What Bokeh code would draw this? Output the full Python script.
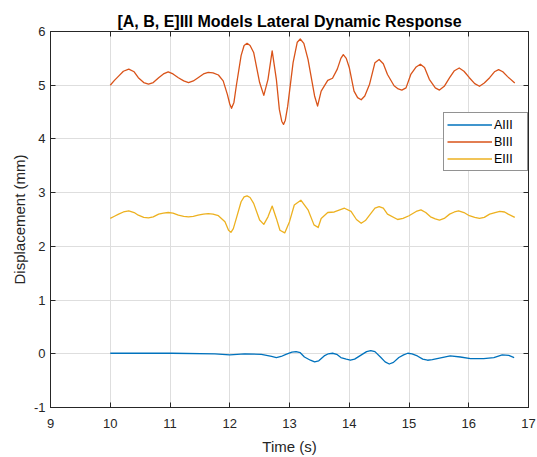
from bokeh.plotting import figure
from bokeh.models import LinearAxis, Legend, LegendItem, FixedTicker, Range1d
from bokeh.embed import file_html
from bokeh.resources import INLINE

# ---- data ----
a_t = [10.0, 11.03, 11.75, 12.0, 12.25, 12.53, 12.70, 12.78, 12.86, 12.94, 13.04, 13.11,
       13.18, 13.25, 13.35, 13.42, 13.49, 13.58, 13.65, 13.72, 13.79, 13.86, 13.95, 14.02,
       14.09, 14.19, 14.29, 14.36, 14.43, 14.53, 14.60, 14.67, 14.74, 14.83, 14.91, 14.98,
       15.05, 15.14, 15.23, 15.31, 15.39, 15.47, 15.69, 15.86, 16.03, 16.25, 16.42, 16.56,
       16.67, 16.76]
a_y = [0.01, 0.01, 0.0, -0.02, 0.0, -0.01, -0.05, -0.07, -0.05, -0.01, 0.03, 0.04,
       0.02, -0.06, -0.12, -0.15, -0.13, -0.04, 0.0, 0.01, -0.01, -0.07, -0.10, -0.12,
       -0.10, -0.03, 0.04, 0.06, 0.04, -0.07, -0.15, -0.19, -0.16, -0.07, -0.02, 0.01,
       0.0, -0.04, -0.10, -0.12, -0.11, -0.09, -0.04, -0.06, -0.09, -0.09, -0.07, -0.02,
       -0.03, -0.07]

b_t = [10.0, 10.07, 10.14, 10.22, 10.31, 10.40, 10.47, 10.56, 10.64, 10.72, 10.81, 10.89,
       10.97, 11.05, 11.14, 11.23, 11.31, 11.39, 11.47, 11.56, 11.64, 11.72, 11.81,
       11.89, 11.96, 12.0, 12.03, 12.07, 12.11, 12.19, 12.24, 12.29, 12.34, 12.40, 12.50,
       12.57, 12.64, 12.71, 12.78, 12.83, 12.87, 12.90, 12.93, 12.97, 13.06, 13.13, 13.18,
       13.24, 13.31, 13.42, 13.47, 13.53, 13.64, 13.72, 13.80, 13.86, 13.90, 13.95, 14.0,
       14.08, 14.14, 14.20, 14.26, 14.34, 14.43, 14.50, 14.57, 14.64, 14.75, 14.82, 14.88,
       14.95, 15.03, 15.12, 15.19, 15.26, 15.34, 15.44, 15.51, 15.59, 15.68, 15.76, 15.84,
       15.92, 16.01, 16.10, 16.18, 16.26, 16.35, 16.43, 16.50, 16.57, 16.65, 16.77]
b_y = [5.0, 5.09, 5.17, 5.26, 5.30, 5.25, 5.14, 5.05, 5.02, 5.05, 5.14, 5.21,
       5.25, 5.21, 5.14, 5.08, 5.05, 5.08, 5.14, 5.21, 5.24, 5.23, 5.19,
       5.08, 4.83, 4.65, 4.57, 4.68, 4.99, 5.55, 5.74, 5.78, 5.74, 5.61, 5.05,
       4.81, 5.11, 5.64, 5.11, 4.55, 4.33, 4.27, 4.35, 4.61, 5.42, 5.80, 5.86,
       5.78, 5.48, 4.80, 4.61, 4.89, 5.09, 5.13, 5.30, 5.50, 5.57, 5.50, 5.33,
       4.89, 4.77, 4.73, 4.80, 5.02, 5.42, 5.48, 5.40, 5.20, 4.99, 4.93, 4.91,
       4.95, 5.20, 5.34, 5.39, 5.33, 5.11, 4.95, 4.91, 4.98, 5.14, 5.27, 5.32,
       5.26, 5.14, 5.03, 4.98, 5.04, 5.14, 5.25, 5.29, 5.25, 5.16, 5.04]

e_t = [10.0, 10.07, 10.14, 10.22, 10.31, 10.40, 10.47, 10.56, 10.64, 10.72, 10.81, 10.89,
       10.97, 11.05, 11.14, 11.23, 11.31, 11.39, 11.47, 11.56, 11.64, 11.72, 11.81,
       11.92, 11.98, 12.02, 12.06, 12.11, 12.19, 12.24, 12.29, 12.34, 12.40, 12.50, 12.57,
       12.64, 12.71, 12.78, 12.84, 12.92, 13.0, 13.08, 13.19, 13.31, 13.41, 13.48, 13.53,
       13.64, 13.75, 13.92, 14.03, 14.12, 14.20, 14.27, 14.34, 14.43, 14.50, 14.57, 14.64,
       14.81, 14.90, 15.0, 15.12, 15.20, 15.28, 15.36, 15.44, 15.51, 15.59, 15.68, 15.76,
       15.83, 15.92, 16.01, 16.10, 16.18, 16.26, 16.35, 16.44, 16.52, 16.60, 16.66, 16.77]
e_y = [2.52, 2.56, 2.60, 2.64, 2.66, 2.63, 2.58, 2.54, 2.53, 2.55, 2.60, 2.62,
       2.63, 2.62, 2.58, 2.56, 2.55, 2.56, 2.58, 2.60, 2.61, 2.60, 2.57,
       2.46, 2.30, 2.26, 2.33, 2.52, 2.83, 2.92, 2.94, 2.91, 2.80, 2.49, 2.41,
       2.55, 2.75, 2.52, 2.30, 2.25, 2.46, 2.77, 2.86, 2.68, 2.40, 2.35, 2.52,
       2.63, 2.64, 2.71, 2.65, 2.50, 2.43, 2.48, 2.58, 2.71, 2.74, 2.71, 2.60,
       2.50, 2.52, 2.57, 2.65, 2.68, 2.63, 2.55, 2.51, 2.49, 2.52, 2.60, 2.64,
       2.66, 2.63, 2.57, 2.54, 2.52, 2.54, 2.60, 2.63, 2.65, 2.64, 2.60, 2.54]

series_names = ["AIII", "BIII", "EIII"]
x_ticks = [9, 10, 11, 12, 13, 14, 15, 16, 17]
y_ticks = [-1, 0, 1, 2, 3, 4, 5, 6]

FONT = "Liberation Sans"
DARK = "#262626"

p = figure(width=537, height=457, output_backend="svg", toolbar_location=None,
           x_range=Range1d(9, 17), y_range=Range1d(-1, 6),
           min_border_left=50, min_border_right=9, min_border_top=31, min_border_bottom=49)

p.title.text = "[A, B, E]III Models Lateral Dynamic Response"
p.title.align = "center"
p.title.text_font = FONT
p.title.text_font_size = "16px"
p.title.text_font_style = "bold"
p.title.text_color = "#000000"
p.title.offset = 0
p.title.standoff = 4

colors = ["#0072BD", "#D95319", "#EDB120"]
ra = p.line(a_t, a_y, line_color=colors[0], line_width=1.3, line_join="round")
rb = p.line(b_t, b_y, line_color=colors[1], line_width=1.3, line_join="round")
re = p.line(e_t, e_y, line_color=colors[2], line_width=1.3, line_join="round")

for ax in (p.xaxis[0], p.yaxis[0]):
    ax.major_tick_in = 5
    ax.major_tick_out = 0
    ax.minor_tick_in = 0
    ax.minor_tick_out = 0
    ax.axis_line_color = DARK
    ax.major_tick_line_color = DARK
    ax.major_label_text_color = DARK
    ax.major_label_text_font = FONT
    ax.major_label_text_font_size = "13px"
    ax.axis_label_text_font = FONT
    ax.axis_label_text_font_size = "15px"
    ax.axis_label_text_font_style = "normal"
    ax.axis_label_text_color = DARK

p.xaxis[0].ticker = FixedTicker(ticks=x_ticks)
p.yaxis[0].ticker = FixedTicker(ticks=y_ticks)
p.yaxis[0].major_label_overrides = {t: str(t) for t in y_ticks}
p.xaxis[0].axis_label = "Time (s)"
p.yaxis[0].axis_label = "Displacement (mm)"
p.xaxis[0].major_label_standoff = 11
p.xaxis[0].axis_label_standoff = 7
p.yaxis[0].major_label_standoff = 5
p.yaxis[0].axis_label_standoff = 3

blank_x = {t: "" for t in x_ticks}
blank_y = {t: "" for t in y_ticks}
top = LinearAxis(ticker=FixedTicker(ticks=x_ticks), major_label_overrides=blank_x,
                 major_tick_in=5, major_tick_out=0, minor_tick_in=0, minor_tick_out=0,
                 axis_line_color=DARK, major_tick_line_color=DARK, major_label_standoff=0)
right = LinearAxis(ticker=FixedTicker(ticks=y_ticks), major_label_overrides=blank_y,
                   major_tick_in=5, major_tick_out=0, minor_tick_in=0, minor_tick_out=0,
                   axis_line_color=DARK, major_tick_line_color=DARK, major_label_standoff=0)
p.add_layout(top, "above")
p.add_layout(right, "right")

p.xgrid.ticker = FixedTicker(ticks=x_ticks)
p.ygrid.ticker = FixedTicker(ticks=y_ticks)
p.xgrid.grid_line_color = "#dedede"
p.ygrid.grid_line_color = "#dedede"
p.outline_line_color = DARK
p.background_fill_color = "white"
p.border_fill_color = "white"

legend = Legend(items=[LegendItem(label=series_names[0], renderers=[ra]),
                       LegendItem(label=series_names[1], renderers=[rb]),
                       LegendItem(label=series_names[2], renderers=[re])],
                location=(393, 236))
legend.label_text_font = FONT
legend.label_text_font_size = "12.5px"
legend.label_text_color = "#000000"
legend.glyph_width = 45
legend.glyph_height = 17
legend.label_height = 17
legend.label_width = 30
legend.label_standoff = 2
legend.spacing = 0
legend.padding = 3
legend.margin = 0
legend.border_line_color = DARK
legend.background_fill_alpha = 1
p.add_layout(legend, "center")

open("out.html", "w").write(file_html(p, INLINE))
